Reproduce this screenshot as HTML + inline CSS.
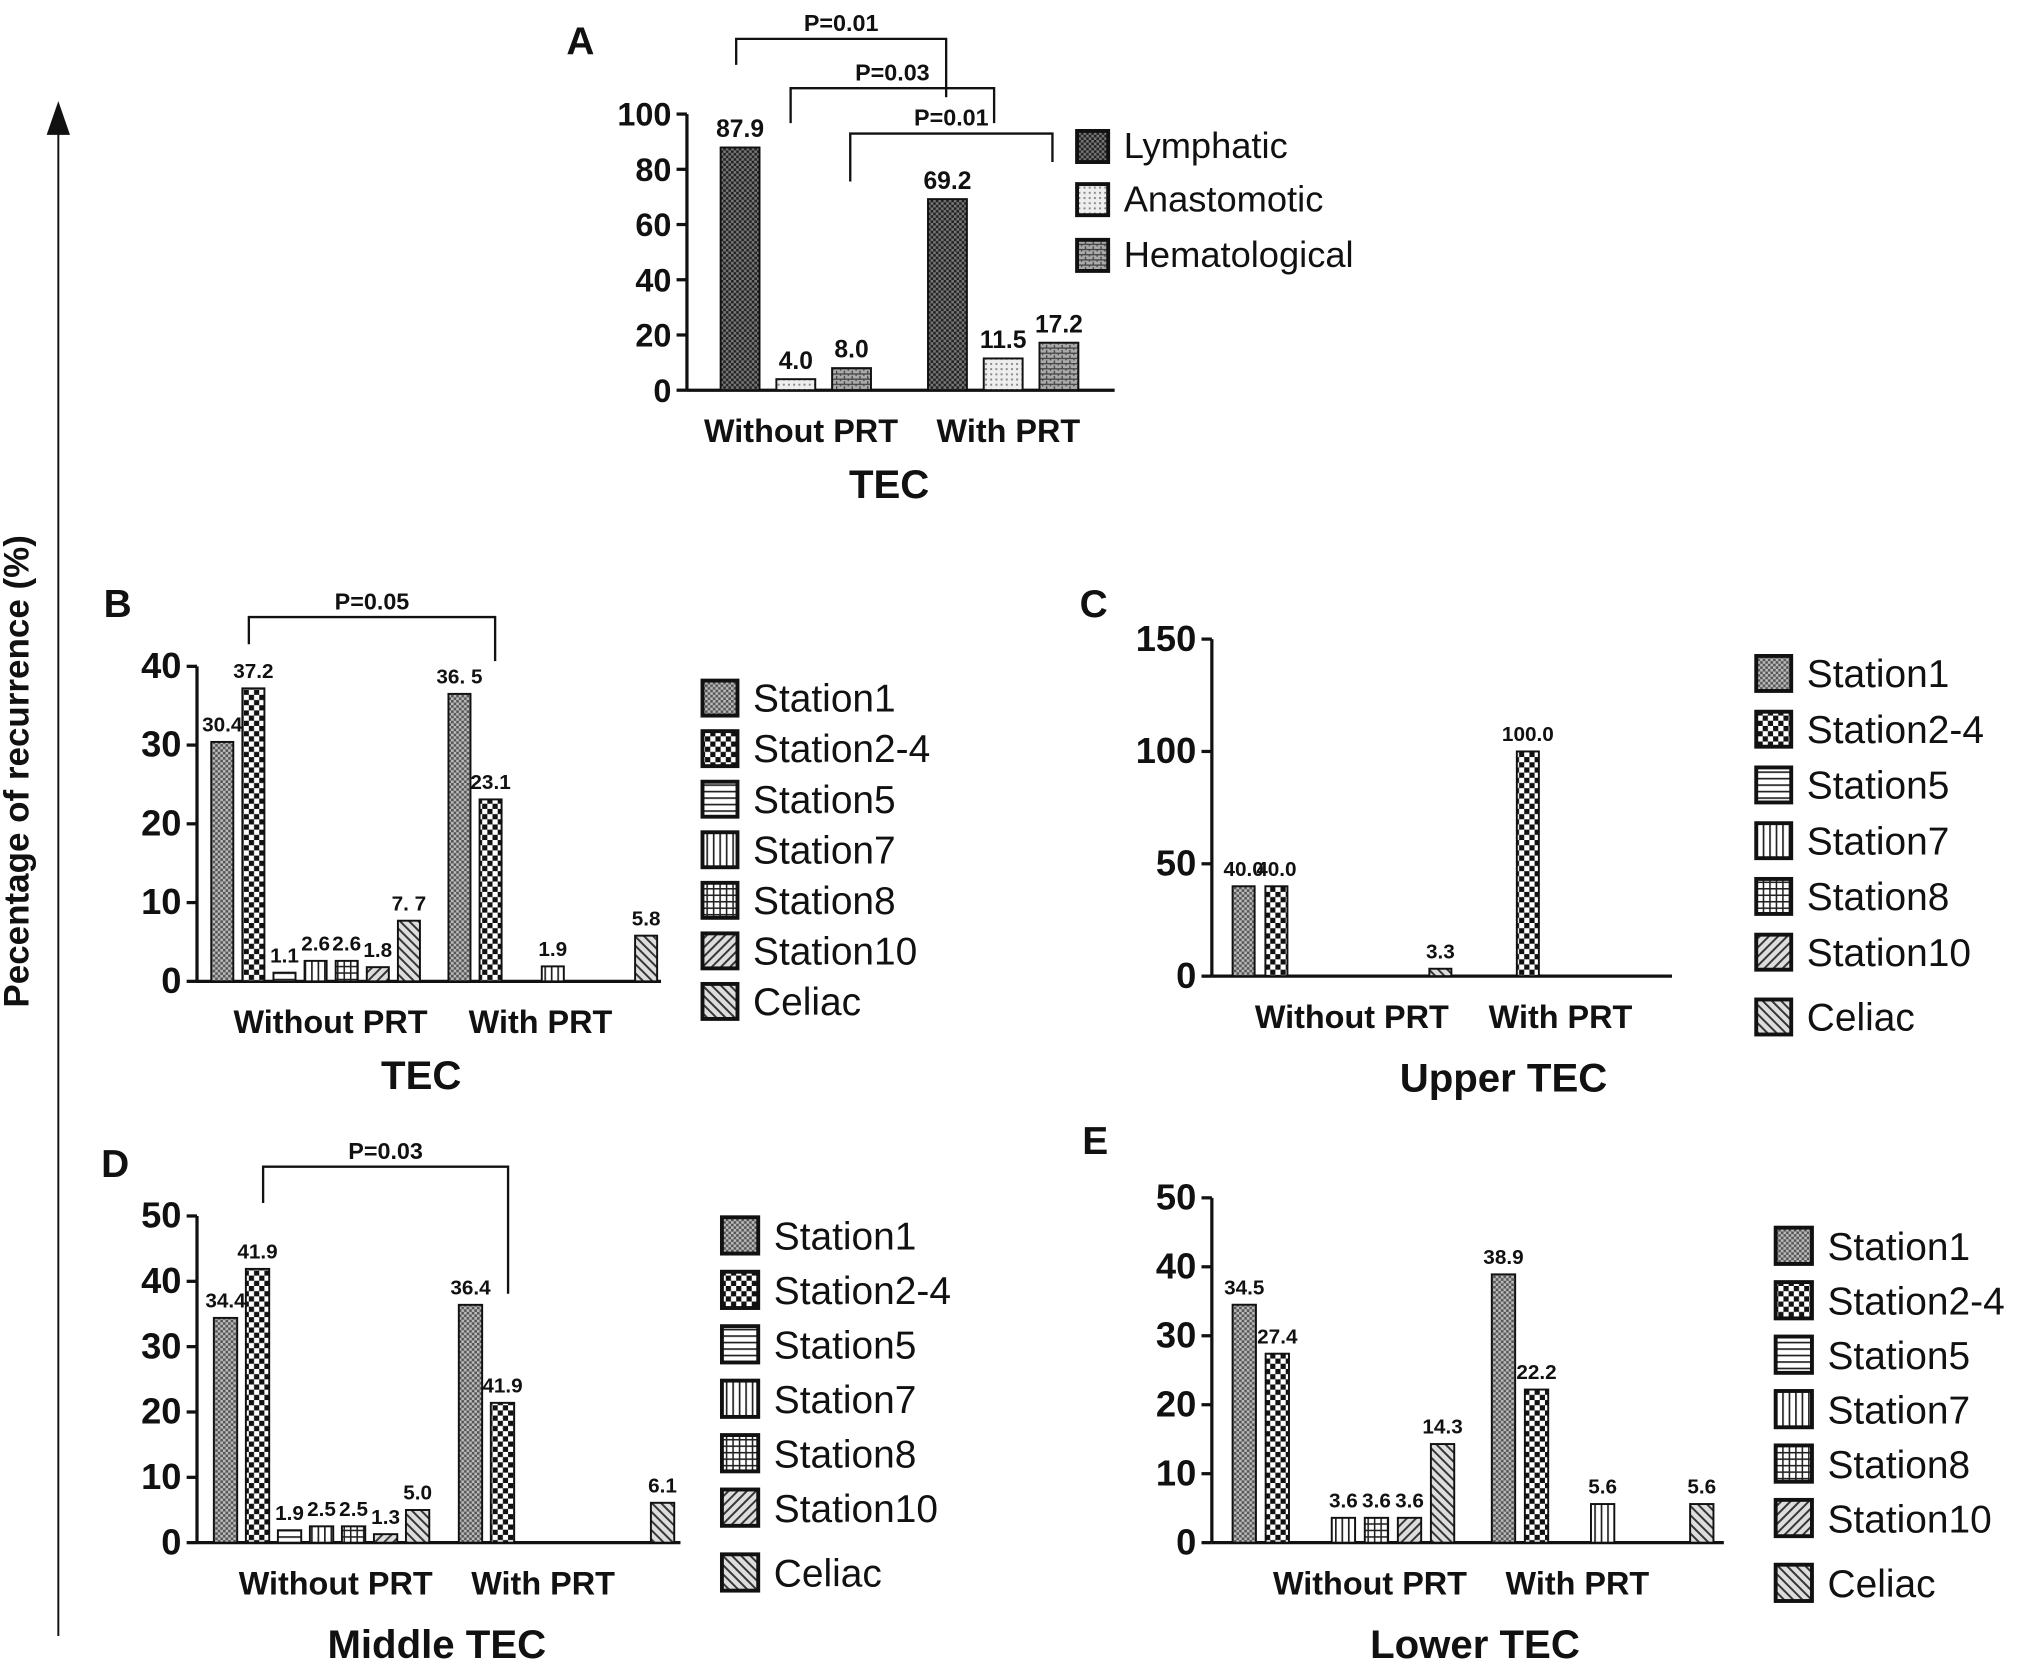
<!DOCTYPE html>
<html><head><meta charset="utf-8">
<style>
html,body{margin:0;padding:0;background:#fff;}
svg{display:block;font-family:"Liberation Sans",Arial,sans-serif;}
</style></head>
<body>
<svg id="chart" width="2031" height="1671" viewBox="0 0 1567 1289" preserveAspectRatio="none" xmlns="http://www.w3.org/2000/svg">
<defs>
<pattern id="p-s1" width="4" height="4" patternUnits="userSpaceOnUse"><rect width="4" height="4" fill="#bbb"/><rect width="2" height="2" fill="#555"/><rect x="2" y="2" width="2" height="2" fill="#555"/></pattern>
<pattern id="p-s2" width="8" height="8" patternUnits="userSpaceOnUse"><rect width="8" height="8" fill="#fff"/><rect width="4" height="4" fill="#111"/><rect x="4" y="4" width="4" height="4" fill="#111"/></pattern>
<pattern id="p-s5" width="6" height="5" patternUnits="userSpaceOnUse"><rect width="6" height="5" fill="#fff"/><rect width="6" height="1.3" fill="#222"/></pattern>
<pattern id="p-s7" width="5" height="6" patternUnits="userSpaceOnUse"><rect width="5" height="6" fill="#fff"/><rect width="1.3" height="6" fill="#222"/></pattern>
<pattern id="p-s8" width="5" height="5" patternUnits="userSpaceOnUse"><rect width="5" height="5" fill="#fff"/><rect width="5" height="1.2" fill="#222"/><rect width="1.2" height="5" fill="#222"/></pattern>
<pattern id="p-s10" width="5" height="5" patternUnits="userSpaceOnUse" patternTransform="rotate(45)"><rect width="5" height="5" fill="#ddd"/><rect width="1.5" height="5" fill="#333"/></pattern>
<pattern id="p-cel" width="5" height="5" patternUnits="userSpaceOnUse" patternTransform="rotate(-45)"><rect width="5" height="5" fill="#ddd"/><rect width="1.5" height="5" fill="#333"/></pattern>
<pattern id="p-lym" width="4" height="4" patternUnits="userSpaceOnUse"><rect width="4" height="4" fill="#777"/><rect width="2" height="2" fill="#222"/><rect x="2" y="2" width="2" height="2" fill="#222"/></pattern>
<pattern id="p-ana" width="4" height="4" patternUnits="userSpaceOnUse"><rect width="4" height="4" fill="#eee"/><rect width="1.5" height="1.5" fill="#888"/></pattern>
<pattern id="p-hem" width="6" height="4" patternUnits="userSpaceOnUse"><rect width="6" height="4" fill="#aaa"/><rect width="6" height="1" fill="#444"/><rect width="1" height="2" fill="#444"/><rect x="3" y="2" width="1" height="2" fill="#444"/></pattern>
</defs>
<g id="root"></g>
</svg>
<script>
const stationNames = ["Station1","Station2-4","Station5","Station7","Station8","Station10","Celiac"];
const stationFills = ["p-s1","p-s2","p-s5","p-s7","p-s8","p-s10","p-cel"];
const typeNames = ["Lymphatic","Anastomotic","Hematological"];
const typeFills = ["p-lym","p-ana","p-hem"];

const aWithout = [87.9, 4.0, 8.0];
const aWith = [69.2, 11.5, 17.2];
const aTicks = [0,20,40,60,80,100];

const bWithout = [30.4, 37.2, 1.1, 2.6, 2.6, 1.8, 7.7];
const bWith = [36.5, 23.1, 0, 1.9, 0, 0, 5.8];
const bLabelsWithout = ["30.4","37.2","1.1","2.6","2.6","1.8","7. 7"];
const bLabelsWith = ["36. 5","23.1","","1.9","","","5.8"];
const bTicks = [0,10,20,30,40];

const cWithout = [40.0, 40.0, 0, 0, 0, 0, 3.3];
const cWith = [0, 100.0, 0, 0, 0, 0, 0];
const cLabelsWithout = ["40.0","40.0","","","","","3.3"];
const cLabelsWith = ["","100.0","","","","",""];
const cTicks = [0,50,100,150];

const dWithout = [34.4, 41.9, 1.9, 2.5, 2.5, 1.3, 5.0];
const dWith = [36.4, 21.4, 0, 0, 0, 0, 6.1];
const dLabelsWithout = ["34.4","41.9","1.9","2.5","2.5","1.3","5.0"];
const dLabelsWith = ["36.4","41.9","","","","","6.1"];
const dTicks = [0,10,20,30,40,50];

const eWithout = [34.5, 27.4, 0, 3.6, 3.6, 3.6, 14.3];
const eWith = [38.9, 22.2, 0, 5.6, 0, 0, 5.6];
const eLabelsWithout = ["34.5","27.4","","3.6","3.6","3.6","14.3"];
const eLabelsWith = ["38.9","22.2","","5.6","","","5.6"];
const eTicks = [0,10,20,30,40,50];

const NS = "http://www.w3.org/2000/svg";
const root = document.getElementById("root");
function mk(tag, attrs, parent, text){
  const e = document.createElementNS(NS, tag);
  for (const k in attrs) e.setAttribute(k, attrs[k]);
  if (text !== undefined) e.textContent = text;
  (parent||root).appendChild(e);
  return e;
}
function txt(x,y,s,size,weight,anchor,parent){
  return mk("text",{x:x,y:y,"font-size":size,"font-weight":weight||"normal","text-anchor":anchor||"middle",fill:"#111"},parent,s);
}

function panel(cfg){
  const g = mk("g",{});
  
  
  const yScale = v => cfg.y0 - (v/cfg.max)*(cfg.y0-cfg.yTop);
  const ax = mk("line",{x1:cfg.ax,y1:cfg.y0,x2:cfg.ax,y2:yScale(cfg.max),stroke:"#111","stroke-width":2.5},g);
  
  
  const xa = mk("line",{x1:cfg.ax,y1:cfg.y0,x2:cfg.axEnd,y2:cfg.y0,stroke:"#111","stroke-width":2.5},g);
  
  
  cfg.ticks.forEach(t=>{
    const y = yScale(t);
    mk("line",{x1:cfg.ax-8,y1:y,x2:cfg.ax,y2:y,stroke:"#111","stroke-width":2.5},g);
    const tl = txt(cfg.ax-12,y+9,String(t),cfg.tickSize,"bold","end",g);
    
    
  });
  [cfg.g1, cfg.g2].forEach((grp,gi)=>{
    grp.vals.forEach((v,i)=>{
      const x = grp.start + i*cfg.step;
      if (v > 0){
        const r = mk("rect",{x:x,y:yScale(v),width:cfg.bw,height:cfg.y0-yScale(v),fill:"url(#"+cfg.fills[i]+")",stroke:"#111","stroke-width":1.5},g);
        
        
      }
      const lab = grp.labels[i];
      if (lab){
        const t = txt(x+cfg.bw/2, yScale(v)-8, lab, cfg.valSize, "bold", "middle", g);
        
        
      }
    });
  });
  const xl1 = txt(cfg.xl1, cfg.y0+40, "Without PRT", 25, "bold", "middle", g);
  
  
  const xl2 = txt(cfg.xl2, cfg.y0+40, "With PRT", 25, "bold", "middle", g);
  
  
  const tt = txt(cfg.titleX, cfg.titleY, cfg.title, 31, "bold", "middle", g);
  
  
  const pl = txt(cfg.letterX, cfg.letterY, cfg.letter, 30, "bold", "start", g);
  
  
  cfg.legNames.forEach((n,i)=>{
    const y = cfg.legY + i*cfg.legGap + (i===cfg.legNames.length-1 ? cfg.legExtra : 0);
    const lg = mk("g",{},g);
    
    
    mk("rect",{x:cfg.legX,y:y,width:cfg.legBox,height:cfg.legBox,fill:"url(#"+cfg.fills[i]+")",stroke:"#111","stroke-width":3},lg);
    txt(cfg.legX+cfg.legBox+12, y+cfg.legBox-3, n, cfg.legSize, "normal", "start", lg);
  });
  (cfg.brackets||[]).forEach(b=>{
    const bg = mk("g",{},g);
    
    
    mk("polyline",{points:`${b.x1},${b.y1} ${b.x1},${b.top} ${b.x2},${b.top} ${b.x2},${b.y2}`,fill:"none",stroke:"#111","stroke-width":1.8},bg);
    txt((b.x1+b.x2)/2, b.top-6, b.label, 18, "bold", "middle", bg);
  });
}

panel({name:"panel-a", ax:530, axEnd:860, y0:301, yTop:88, max:100, ticks:aTicks, tickSize:25, valSize:19,
  step:43, bw:30, fills:typeFills,
  g1:{start:556, vals:aWithout, labels:aWithout.map(v=>v.toFixed(1))},
  g2:{start:716, vals:aWith, labels:aWith.map(v=>v.toFixed(1))},
  xl1:618, xl2:778, titleX:686, titleY:384, title:"TEC", letter:"A", letterX:437, letterY:42,
  legNames:typeNames, legX:831, legY:101, legGap:41, legExtra:2, legBox:24, legSize:28,
  brackets:[{x1:568,y1:50,x2:730,y2:75,top:30,label:"P=0.01"},{x1:610,y1:95,x2:767,y2:95,top:68,label:"P=0.03"},{x1:656,y1:140,x2:812,y2:125,top:103,label:"P=0.01"}]});

panel({name:"panel-b", ax:152, axEnd:510, y0:757, yTop:514, max:40, ticks:bTicks, tickSize:28, valSize:16,
  step:24, bw:17, fills:stationFills,
  g1:{start:163, vals:bWithout, labels:bLabelsWithout},
  g2:{start:346, vals:bWith, labels:bLabelsWith},
  xl1:255, xl2:417, titleX:325, titleY:840, title:"TEC", letter:"B", letterX:80, letterY:476,
  legNames:stationNames, legX:542, legY:525, legGap:39, legExtra:0, legBox:27, legSize:30,
  brackets:[{x1:192,y1:497,x2:382,y2:510,top:476,label:"P=0.05"}]});

panel({name:"panel-c", ax:935, axEnd:1290, y0:753, yTop:493, max:150, ticks:cTicks, tickSize:28, valSize:16,
  step:25.3, bw:17, fills:stationFills,
  g1:{start:951, vals:cWithout, labels:cLabelsWithout},
  g2:{start:1145, vals:cWith, labels:cLabelsWith},
  xl1:1043, xl2:1204, titleX:1160, titleY:842, title:"Upper TEC", letter:"C", letterX:833, letterY:476,
  legNames:stationNames, legX:1355, legY:506, legGap:43, legExtra:7, legBox:27, legSize:30, brackets:[]});

panel({name:"panel-d", ax:152, axEnd:525, y0:1190, yTop:938, max:50, ticks:dTicks, tickSize:28, valSize:16,
  step:24.7, bw:18, fills:stationFills,
  g1:{start:165, vals:dWithout, labels:dLabelsWithout},
  g2:{start:354, vals:dWith, labels:dLabelsWith},
  xl1:259, xl2:419, titleX:337, titleY:1279, title:"Middle TEC", letter:"D", letterX:78, letterY:908,
  legNames:stationNames, legX:557, legY:939, legGap:42, legExtra:8, legBox:28, legSize:30,
  brackets:[{x1:203,y1:928,x2:392,y2:998,top:900,label:"P=0.03"}]});

panel({name:"panel-e", ax:935, axEnd:1330, y0:1190, yTop:924, max:50, ticks:eTicks, tickSize:28, valSize:16,
  step:25.5, bw:18, fills:stationFills,
  g1:{start:951, vals:eWithout, labels:eLabelsWithout},
  g2:{start:1151, vals:eWith, labels:eLabelsWith},
  xl1:1057, xl2:1217, titleX:1138, titleY:1279, title:"Lower TEC", letter:"E", letterX:835, letterY:890,
  legNames:stationNames, legX:1370, legY:947, legGap:42, legExtra:8, legBox:28, legSize:30, brackets:[]});

const arr = mk("g",{});


mk("line",{x1:45,y1:100,x2:45,y2:1262,stroke:"#111","stroke-width":1.5},arr);
mk("polygon",{points:"36,104 54,104 45,78",fill:"#111"},arr);
const yt = mk("text",{x:0,y:0,"font-size":27,"font-weight":"bold","text-anchor":"middle",fill:"#111",transform:"translate(22,595) rotate(-90)"},root,"Pecentage of recurrence (%)");


</script>
</body></html>
